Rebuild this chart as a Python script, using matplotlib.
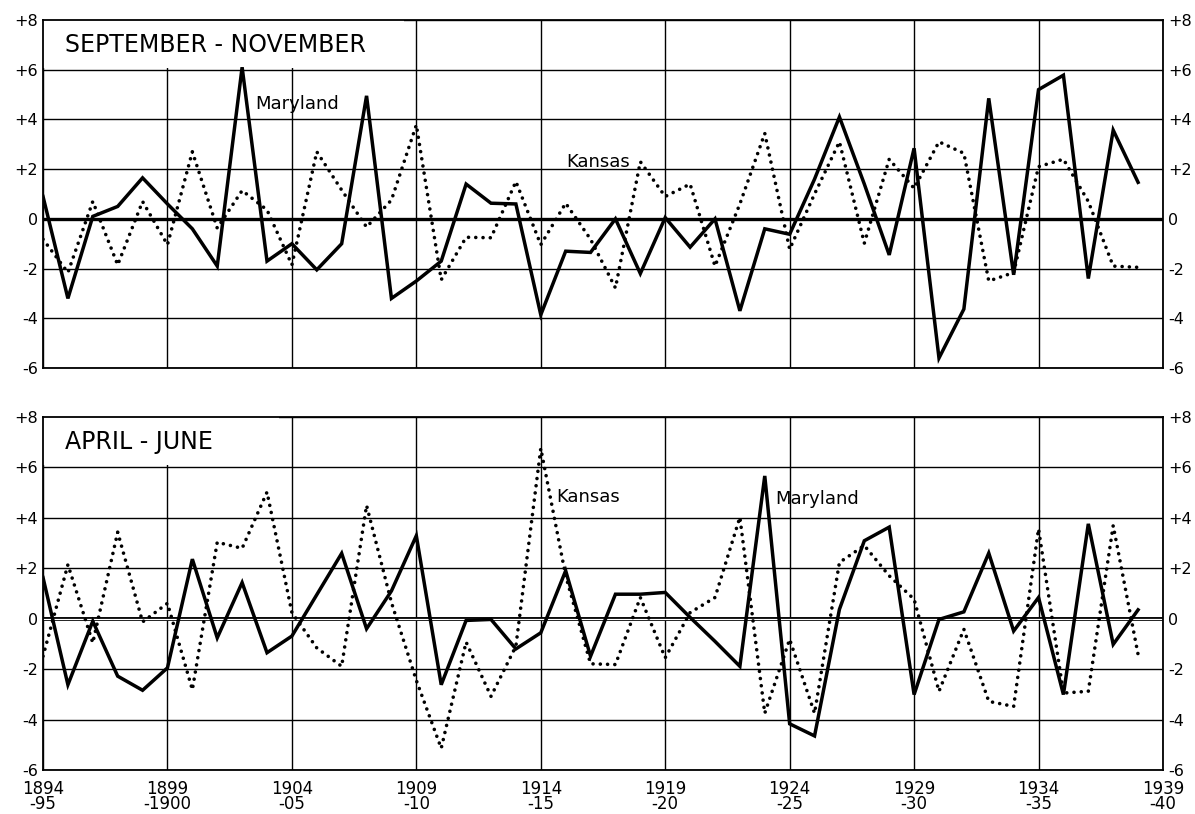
import matplotlib
import numpy as np

matplotlib.use("Agg")
import matplotlib.pyplot as plt
from matplotlib.patches import Rectangle

# crop years 1894-95 ... 1938-39
years = np.arange(1894, 1939)

# September - November departures
son_maryland = [0.9, -3.2, 0.1, 0.5, 1.65, 0.6, -0.4, -1.9, 6.1, -1.7,
                -1.0, -2.05, -1.0, 4.95, -3.2, -2.5, -1.7, 1.4, 0.63, 0.6,
                -3.86, -1.3, -1.35, 0.0, -2.2, 0.05, -1.14, 0.0, -3.7, -0.4,
                -0.62, 1.6, 4.1, 1.4, -1.45, 2.84, -5.6, -3.63, 4.85, -2.25,
                5.2, 5.78, -2.4, 3.57, 1.47]
son_kansas = [-0.82, -2.16, 0.7, -1.85, 0.7, -1.04, 2.7, -0.37, 1.14, 0.36,
              -1.85, 2.7, 1.16, -0.33, 0.76, 3.78, -2.45, -0.74, -0.76, 1.5,
              -1.04, 0.63, -0.82, -2.78, 2.3, 0.9, 1.4, -1.9, 0.6, 3.44,
              -1.22, 1.0, 3.1, -0.98, 2.4, 1.23, 3.1, 2.64, -2.5, -2.16,
              2.1, 2.4, 0.7, -1.9, -1.95]

# April - June departures
amj_maryland = [1.63, -2.62, -0.1, -2.28, -2.84, -1.95, 2.36, -0.76, 1.43, -1.35,
                -0.69, 0.95, 2.59, -0.4, 1.1, 3.29, -2.62, -0.07, -0.03, -1.2,
                -0.56, 1.9, -1.49, 0.97, 0.97, 1.04, 0.05, -0.9, -1.89, 5.66,
                -4.17, -4.65, 0.37, 3.09, 3.63, -3.01, -0.03, 0.27, 2.6, -0.49,
                0.84, -3.01, 3.76, -1.02, 0.35]
amj_kansas = [-1.49, 2.14, -0.96, 3.43, -0.13, 0.61, -2.82, 3.03, 2.79, 5.02,
              0.24, -1.16, -1.89, 4.49, 0.64, -2.45, -5.14, -0.93, -3.08, -1.09,
              6.75, 1.7, -1.79, -1.82, 0.84, -1.55, 0.24, 0.84, 4.02, -3.75,
              -0.82, -3.75, 2.23, 2.9, 1.7, 0.77, -2.88, -0.42, -3.28, -3.48,
              3.56, -2.95, -2.88, 3.69, -1.42]

ytick_vals = [-6, -4, -2, 0, 2, 4, 6, 8]
ytick_labels = ["-6", "-4", "-2", "0", "+2", "+4", "+6", "+8"]
xtick_vals = [1894, 1899, 1904, 1909, 1914, 1919, 1924, 1929, 1934, 1939]
xtick_labels = ["1894\n-95", "1899\n-1900", "1904\n-05", "1909\n-10", "1914\n-15",
                "1919\n-20", "1924\n-25", "1929\n-30", "1934\n-35", "1939\n-40"]

plt.rcParams["font.family"] = ["DejaVu Sans"]

fig = plt.figure(figsize=(11.95, 8.14), dpi=100)
ax_top = fig.add_axes([0.036, 0.5479, 0.9372, 0.4275])
ax_bot = fig.add_axes([0.036, 0.0541, 0.9372, 0.4337])


def setup(ax, title, box_right, show_x):
    ax.set_xlim(1894, 1939)
    ax.set_ylim(-6, 8)
    ax.set_yticks(ytick_vals)
    ax.set_yticklabels(ytick_labels)
    ax.set_xticks(xtick_vals)
    if show_x:
        ax.set_xticklabels(xtick_labels, linespacing=0.82)
    else:
        ax.set_xticklabels([])
    ax.tick_params(axis="y", which="both", length=0, labelsize=11.5, pad=3.5,
                   left=True, right=True, labelleft=True, labelright=True)
    ax.tick_params(axis="x", length=0, labelsize=12, pad=7)
    ax.grid(True, color="black", linewidth=1.0)
    ax.set_axisbelow(True)
    for sp in ax.spines.values():
        sp.set_linewidth(1.3)
        sp.set_zorder(4)
    # blank area behind the panel title
    ax.add_patch(Rectangle((1894, 6.08), box_right - 1894, 1.92,
                           facecolor="white", edgecolor="none", zorder=1))
    ax.text(1894.9, 7.0, title, fontsize=17, ha="left", va="center", zorder=3)


setup(ax_top, "SEPTEMBER - NOVEMBER", 1908.5, False)
setup(ax_bot, "APRIL - JUNE", 1903.5, True)

# zero lines
ax_top.axhline(0, color="black", linewidth=2.4, zorder=1.5)
ax_bot.axhline(0, color="black", linewidth=2.8, zorder=1.5)
ax_bot.axhline(0, color="white", linewidth=0.9, zorder=1.6)

dot_style = dict(color="black", linewidth=2.6, linestyle=(0, (0.01, 2.0)),
                 dash_capstyle="round", zorder=2)
solid_style = dict(color="black", linewidth=2.5, solid_joinstyle="miter", zorder=2.5)

ax_top.plot(years, son_kansas, **dot_style)
ax_top.plot(years, son_maryland, **solid_style)
ax_bot.plot(years, amj_kansas, **dot_style)
ax_bot.plot(years, amj_maryland, **solid_style)

ax_top.text(1902.52, 4.62, "Maryland", fontsize=13, ha="left", va="center", zorder=3)
ax_top.text(1915.03, 2.29, "Kansas", fontsize=13, ha="left", va="center", zorder=3)
ax_bot.text(1914.63, 4.83, "Kansas", fontsize=13, ha="left", va="center", zorder=3)
ax_bot.text(1923.43, 4.75, "Maryland", fontsize=13, ha="left", va="center", zorder=3)

fig.savefig("out.png", dpi=100)
plt.close(fig)
